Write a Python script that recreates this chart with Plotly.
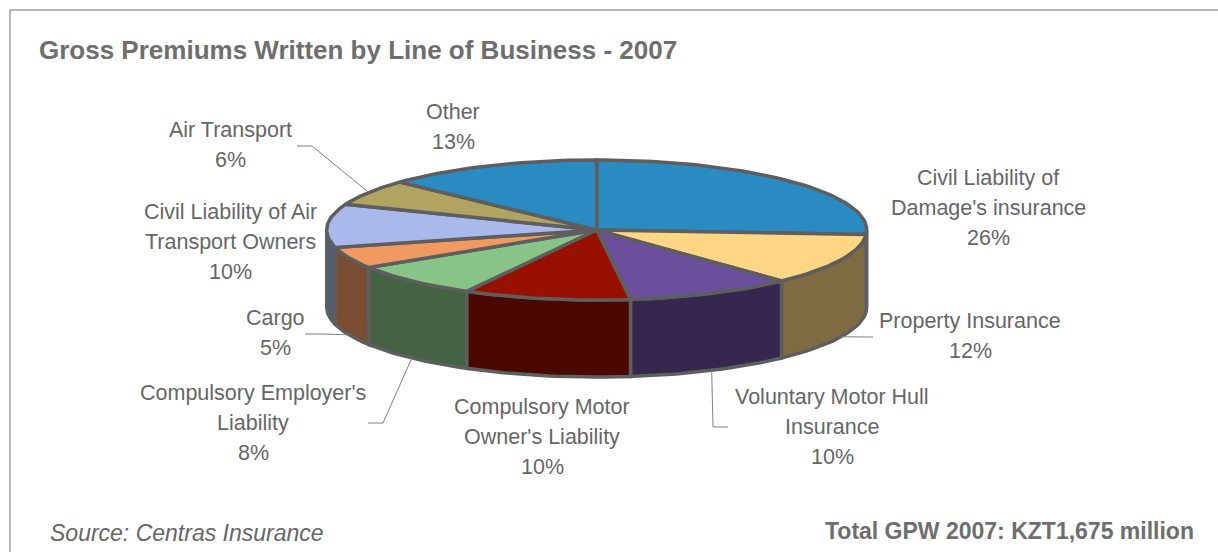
import numpy as np
import plotly.graph_objects as go

# ---- data ----
categories = [
    "Civil Liability of<br>Damage's insurance",
    "Property Insurance",
    "Voluntary Motor Hull<br>Insurance",
    "Compulsory Motor<br>Owner's Liability",
    "Compulsory Employer's<br>Liability",
    "Cargo",
    "Civil Liability of Air<br>Transport Owners",
    "Air Transport",
    "Other",
]
values = [26, 12, 10, 10, 8, 5, 10, 6, 13]

title_text = "Gross Premiums Written by Line of Business - 2007"
source_text = "Source: Centras Insurance"
total_text = "Total GPW 2007: KZT1,675 million"

# ---- style ----
top_colors = ["#2A8AC2", "#FFD683", "#6B4F9C", "#971000", "#88C488",
              "#F09A62", "#A9B9EC", "#B1A462", "#2A8AC2"]
outline = "#5E5E5E"
text_col = "#666666"
FONT = "Liberation Sans, Arial, sans-serif"

W, H = 1218, 552
cx, cy, rx, ry, depth = 596.7, 230.0, 270.0, 70.0, 77.0
LINE_GAP = 30

# label placement (centre of text block) and leader anchor (label side)
label_pos = [(988, 208), (970, 336), (832, 427), (542, 437), (253, 423),
             (275, 333), (230, 242), (230, 145), (453, 127)]
leader_start = [None, [(873, 337), (853, 337)], [(728, 427), (713, 427)], None,
                [(368, 423), (383, 423)], [(305, 334), (322, 334)], None,
                [(297, 146), (312, 146)], None]
leader_edge = [None, "bottom", "bottom", None, "bottom", "bottom", None, "top", None]


def darker(hexc, f=0.5):
    h = hexc.lstrip("#")
    r, g, b = (int(h[i:i + 2], 16) for i in (0, 2, 4))
    return "#%02X%02X%02X" % (int(r * f), int(g * f), int(b * f))


def arc(a0, a1, dz=0.0, n=None):
    if n is None:
        n = max(4, int(abs(a1 - a0) / 1.5) + 2)
    t = np.radians(np.linspace(a0, a1, n))
    return cx + rx * np.sin(t), cy - ry * np.cos(t) + dz


total = float(sum(values))
bounds = np.concatenate([[0], np.cumsum(values)]) / total * 360.0

fig = go.Figure()

# side walls (front half only)
for i, v in enumerate(values):
    a0, a1 = bounds[i], bounds[i + 1]
    s, e = max(a0, 90.0), min(a1, 270.0)
    if s >= e:
        continue
    xt, yt = arc(s, e)
    xb, yb = arc(e, s, depth)
    xs = np.concatenate([xt, xb, xt[:1]])
    ys = np.concatenate([yt, yb, yt[:1]])
    fig.add_trace(go.Scatter(x=xs, y=ys, mode="lines", fill="toself",
                             fillcolor=darker(top_colors[i]),
                             line=dict(color=outline, width=3.5),
                             hoverinfo="skip", showlegend=False))

# top faces
for i, v in enumerate(values):
    a0, a1 = bounds[i], bounds[i + 1]
    xa, ya = arc(a0, a1)
    xs = np.concatenate([[cx], xa, [cx]])
    ys = np.concatenate([[cy], ya, [cy]])
    fig.add_trace(go.Scatter(x=xs, y=ys, mode="lines", fill="toself",
                             fillcolor=top_colors[i],
                             line=dict(color=outline, width=3.5),
                             hoverinfo="skip", showlegend=False))

# leader lines
for i, v in enumerate(values):
    if leader_start[i] is None:
        continue
    mid = (bounds[i] + bounds[i + 1]) / 2
    dz = depth if leader_edge[i] == "bottom" else 0.0
    ex, ey = arc(mid, mid, dz, n=1)
    pts = leader_start[i] + [(ex[0], ey[0])]
    fig.add_trace(go.Scatter(x=[p[0] for p in pts], y=[p[1] for p in pts],
                             mode="lines", line=dict(color="#7F7F7F", width=1),
                             hoverinfo="skip", showlegend=False))

# labels (one annotation per text line to reproduce the wide line spacing)
for i, v in enumerate(values):
    x, y = label_pos[i]
    pct = round(v / total * 100)
    lines = categories[i].split("<br>") + [f"{pct}%"]
    y0 = y - (len(lines) - 1) / 2 * LINE_GAP
    for k, ln in enumerate(lines):
        fig.add_annotation(x=x, y=y0 + k * LINE_GAP, xref="x", yref="y",
                           showarrow=False, text=ln,
                           font=dict(family=FONT, size=21.5, color=text_col),
                           xanchor="center", yanchor="middle")

fig.add_annotation(x=37, y=50, xref="x", yref="y", showarrow=False,
                   text=f"<b>{title_text}</b>", xanchor="left", yanchor="middle",
                   font=dict(family=FONT, size=26, color="#6E6E6E"))
fig.add_annotation(x=48, y=533, xref="x", yref="y", showarrow=False,
                   text=f"<i>{source_text}</i>", xanchor="left", yanchor="middle",
                   font=dict(family=FONT, size=23, color=text_col))
fig.add_annotation(x=1196, y=531, xref="x", yref="y", showarrow=False,
                   text=f"<b>{total_text}</b>", xanchor="right", yanchor="middle",
                   font=dict(family=FONT, size=23, color="#6E6E6E"))

fig.add_shape(type="rect", xref="x", yref="y", x0=10, y0=10, x1=1240, y1=580,
              line=dict(color="#A0A0A0", width=1.5), fillcolor="rgba(0,0,0,0)")

fig.update_layout(
    width=W, height=H, margin=dict(l=0, r=0, t=0, b=0, pad=0),
    paper_bgcolor="white", plot_bgcolor="white",
    xaxis=dict(range=[0, W], visible=False, fixedrange=True),
    yaxis=dict(range=[H, 0], visible=False, fixedrange=True),
    showlegend=False,
)

fig.write_html("out.html", config={"displayModeBar": False},
               post_script="document.body.style.margin='0';document.body.style.overflow='hidden';")
